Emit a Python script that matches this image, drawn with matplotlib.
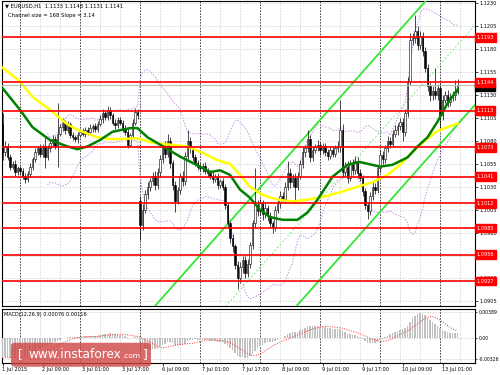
import numpy as np
import pandas as pd
import matplotlib
matplotlib.use("Agg")
import matplotlib.pyplot as plt
from matplotlib.patches import FancyBboxPatch

plt.rcParams['font.family'] = ['DejaVu Sans']

BASE = 1.09  # pip values below are pips above 1.0900

# EURUSD H1, 1 Jul 16:00 .. 13 Jul 07:00 (184 bars)
close_pips = [198, 168, 175, 162, 152, 155, 146, 150, 147, 142,
              138, 144, 152, 160, 168, 172, 166, 174, 162, 172,
              178, 182, 175, 188, 195, 200, 192, 198, 187, 184,
              182, 187, 190, 188, 192, 190, 194, 196, 193, 199,
              204, 210, 206, 214, 208, 200, 197, 203, 200, 194,
              190, 176, 186, 200, 212, 208, 88, 105, 122, 130,
              136, 142, 132, 146, 160, 174, 166, 180, 156, 132,
              115, 126, 142, 136, 164, 180, 172, 162, 156, 152,
              150, 153, 147, 145, 142, 138, 141, 132, 136, 130,
              110, 90, 74, 65, 45, 30, 42, 50, 36, 46,
              66, 90, 110, 104, 112, 100, 107, 98, 90, 86,
              105, 112, 120, 117, 130, 145, 135, 140, 130, 142,
              155, 168, 172, 182, 162, 170, 173, 176, 170, 174,
              168, 164, 170, 166, 172, 175, 192, 146, 152, 140,
              155, 148, 158, 145, 140, 125, 110, 104, 120, 130,
              127, 150, 165, 160, 172, 180, 177, 188, 192, 196,
              201, 190, 210, 245, 290, 292, 300, 285, 295, 278,
              260, 240, 230, 235, 230, 238, 208, 225, 230, 222,
              228, 230, 233, 241]
wick_up = [10, 12, 5, 3, 4, 3, 4, 3, 3, 4,
           3, 3, 4, 3, 4, 3, 5, 3, 10, 4,
           3, 4, 3, 33, 4, 5, 3, 4, 3, 3,
           3, 3, 3, 4, 3, 3, 4, 3, 4, 3,
           4, 5, 3, 4, 3, 3, 4, 3, 3, 3,
           3, 3, 3, 4, 4, 3, 5, 6, 4, 5,
           4, 4, 5, 4, 5, 4, 6, 8, 4, 3,
           4, 4, 3, 5, 4, 12, 4, 3, 4, 3,
           4, 3, 4, 3, 3, 4, 3, 4, 3, 4,
           3, 3, 3, 4, 3, 4, 6, 5, 4, 5,
           4, 4, 40, 6, 5, 4, 5, 3, 4, 3,
           4, 4, 5, 4, 5, 13, 5, 4, 5, 4,
           4, 5, 4, 10, 5, 4, 4, 5, 3, 4,
           4, 3, 4, 3, 4, 5, 33, 6, 5, 6,
           4, 5, 6, 5, 4, 3, 4, 3, 4, 5,
           4, 4, 5, 4, 4, 5, 4, 4, 5, 4,
           4, 4, 5, 5, 8, 6, 17, 5, 5, 4,
           5, 4, 4, 5, 25, 4, 5, 5, 4, 6,
           4, 5, 13, 7]
wick_dn = [4, 9, 4, 3, 4, 3, 4, 3, 4, 3,
           4, 3, 3, 4, 3, 3, 4, 3, 12, 3,
           4, 3, 4, 23, 3, 4, 4, 3, 4, 3,
           3, 4, 3, 3, 4, 3, 3, 4, 3, 3,
           3, 4, 3, 3, 4, 3, 4, 3, 3, 4,
           3, 4, 3, 3, 3, 4, 16, 5, 4, 5,
           5, 4, 6, 4, 5, 4, 5, 4, 5, 5,
           13, 4, 4, 5, 4, 4, 5, 4, 3, 4,
           3, 4, 3, 4, 3, 4, 3, 4, 3, 4,
           4, 5, 5, 6, 5, 12, 5, 6, 5, 4,
           5, 4, 5, 6, 5, 6, 4, 5, 4, 6,
           4, 4, 5, 4, 5, 4, 6, 5, 18, 4,
           4, 4, 5, 4, 5, 4, 3, 4, 5, 4,
           4, 5, 4, 4, 3, 4, 7, 5, 4, 6,
           4, 5, 4, 5, 4, 5, 4, 9, 5, 4,
           5, 4, 4, 5, 4, 4, 5, 4, 4, 5,
           4, 10, 5, 4, 4, 5, 5, 6, 5, 5,
           5, 5, 6, 5, 4, 5, 14, 5, 4, 5,
           4, 4, 5, 2]
open_pips = {0: 195, 56: 115}  # bars not opening at previous close

# moving averages (bar index, pips)
green_idx = [0, 8, 13, 20, 27, 31, 35, 40, 45, 52, 55, 59, 64, 72, 80, 84, 88, 92, 96, 100,
             104, 108, 113, 119, 123, 127, 133, 139, 144, 152, 157, 163, 167, 171, 175, 179, 183]
green_pips = [241, 214, 195, 181, 174, 171, 174, 181, 190, 194, 194, 184, 176, 163, 152, 146, 148, 143, 127, 118,
              105, 97, 94, 94, 102, 116, 141, 154, 157, 152, 154, 162, 174, 184, 201, 221, 236]
yellow_idx = [0, 8, 13, 20, 27, 32, 39, 44, 48, 55, 61, 68, 75, 81, 87, 92, 96, 100, 105, 111,
              117, 123, 129, 136, 143, 149, 155, 160, 165, 169, 175, 180, 183]
yellow_pips = [262, 245, 228, 214, 198, 191, 184, 182, 182, 183, 178, 176, 174, 167, 159, 155, 143, 130, 121, 116,
               114, 116, 119, 124, 130, 135, 143, 154, 168, 178, 191, 196, 199]

# regression channel: midline through two anchors, half width in pips
channel_idx = [100, 190]
channel_mid = [29.8, 306.4]
channel_half = 87
channel_start = 16

# MACD value on the first visible bar (history before it is not shown)
macd_first = -0.0030

levels = [1.1193, 1.1144, 1.1113, 1.1073, 1.1041, 1.1012, 1.0985, 1.0956, 1.0927]
last_price = 1.1141
price_ticks = [1.0905, 1.0930, 1.0980, 1.1005, 1.1030, 1.1055, 1.1080,
               1.1105, 1.1130, 1.1155, 1.1180, 1.1205, 1.1230]
grid_prices = [1.0905, 1.0930, 1.0955, 1.0980, 1.1005, 1.1030, 1.1055, 1.1080,
               1.1105, 1.1130, 1.1155, 1.1180, 1.1205, 1.1230]
macd_ticks = [0.00389, 0.0, -0.00326]
macd_labels = ['0.00389', '0.00', '-0.00326']
label_idx = [1, 17, 33, 49, 65, 81, 97, 113, 129, 145, 161, 177]

# ---- derived series
close = BASE + np.array(close_pips) / 1e4
opens = np.r_[close[0], close[:-1]]
for k, v in open_pips.items():
    opens[k] = BASE + v / 1e4
high = np.maximum(opens, close) + np.array(wick_up) / 1e4
low = np.minimum(opens, close) - np.array(wick_dn) / 1e4
x = np.arange(len(close))

times = pd.date_range('2015-07-01 16:00', '2015-07-13 07:00', freq='h')
times = times[times.dayofweek < 5]

s = pd.Series(close)
bb_mid = s.rolling(20).mean()
bb_sd = s.rolling(20).std(ddof=0)

ema_fast = s.ewm(span=12, adjust=False).mean().to_numpy()
ema_slow = [close[0] - macd_first]
for c in close[1:]:
    ema_slow.append(ema_slow[-1] + 2 / 27 * (c - ema_slow[-1]))
macd = ema_fast - np.array(ema_slow)
signal = pd.Series(macd).rolling(9, min_periods=1).mean()

fig = plt.figure(figsize=(5, 3.75), dpi=100)
ax = fig.add_axes([0.004, 0.184, 0.946, 0.813])
ax2 = fig.add_axes([0.004, 0.032, 0.946, 0.144])

for a in (ax, ax2):
    a.set_xlim(0.8, 190)
    for sp in a.spines.values():
        sp.set_color('black')
        sp.set_linewidth(0.8)
    for g in range(8, 190, 8):
        if (g - 8) % 24 == 0:
            a.axvline(g, color='#303030', lw=0.6, dashes=(2, 1.5), zorder=1)
        else:
            a.axvline(g, color='#c8c8c8', lw=0.5, dashes=(2, 2), zorder=1)

ax.set_ylim(1.0900, 1.12325)
for p in grid_prices:
    ax.axhline(p, color='#c8c8c8', lw=0.5, dashes=(2, 2), zorder=1)

# bollinger bands
ax.plot(x, bb_mid + 2 * bb_sd, color='#c890e8', lw=0.7, ls=(0, (1.5, 1.5)), zorder=2)
ax.plot(x, bb_mid - 2 * bb_sd, color='#c890e8', lw=0.7, ls=(0, (1.5, 1.5)), zorder=2)

# channel
cx = np.array([channel_start, 190])
slope = (channel_mid[1] - channel_mid[0]) / (channel_idx[1] - channel_idx[0])
mid = BASE + (channel_mid[0] + slope * (cx - channel_idx[0])) / 1e4
ax.plot(cx, mid + channel_half / 1e4, color='#33e633', lw=1.3, zorder=3)
ax.plot(cx, mid - channel_half / 1e4, color='#33e633', lw=1.3, zorder=3)
ax.plot(cx, mid, color='#7cf07c', lw=0.8, ls=(0, (1.5, 2)), zorder=3)

# candles
up = close >= opens
ax.vlines(x, low, high, color='black', lw=0.5, zorder=4)
ax.bar(x[up], (close - opens)[up], bottom=opens[up], width=0.7,
       color='white', edgecolor='black', lw=0.4, zorder=5)
ax.bar(x[~up], (opens - close)[~up], bottom=close[~up], width=0.7,
       color='black', edgecolor='black', lw=0.4, zorder=5)

# moving averages
ax.plot(yellow_idx, BASE + np.array(yellow_pips) / 1e4, color='#ffff00', lw=1.8, zorder=6)
ax.plot(green_idx, BASE + np.array(green_pips) / 1e4, color='#008000', lw=1.8, zorder=6)

# levels
ax.axhline(last_price, color='#c0c0c0', lw=0.8, zorder=6)
for lv in levels:
    ax.axhline(lv, color='#ff0000', lw=1.2, zorder=7)

ax.set_xticks([])
ax.yaxis.tick_right()
ax.set_yticks(price_ticks)
ax.set_yticklabels([f'{p:.4f}' for p in price_ticks])
ax.tick_params(axis='y', labelsize=3.6, length=2, width=0.5, pad=1.5)

yt = ax.get_yaxis_transform()
ax.text(1.003, last_price - 0.0002, f'{last_price:.4f}', transform=yt, fontsize=3.6, color='white',
        va='center', ha='left', clip_on=False, zorder=8,
        bbox=dict(boxstyle='square,pad=0.35', fc='black', ec='black'))
for lv in levels:
    ax.text(1.003, lv, f'{lv:.4f}', transform=yt, fontsize=3.6, color='white',
            va='center', ha='left', clip_on=False, zorder=9,
            bbox=dict(boxstyle='square,pad=0.35', fc='#ff0000', ec='#ff0000'))

ax.text(0.006, 0.993, '\u25bc EURUSD,H1  1.1133 1.1148 1.1131 1.1141', transform=ax.transAxes,
        fontsize=3.8, va='top', ha='left', zorder=10)
ax.text(0.012, 0.962, 'Channel size = 168 Slope = 3.14', transform=ax.transAxes,
        fontsize=3.8, va='top', ha='left', zorder=10)

# MACD panel
ax2.set_ylim(-0.0038, 0.0044)
for t in macd_ticks:
    ax2.axhline(t, color='#c8c8c8', lw=0.5, dashes=(2, 2), zorder=1)
ax2.bar(x, macd, width=0.6, color='#c0c0c0', zorder=3)
ax2.plot(x, signal, color='#ff3030', lw=0.7, ls=(0, (1, 1.5)), zorder=4)
ax2.yaxis.tick_right()
ax2.set_yticks(macd_ticks)
ax2.set_yticklabels(macd_labels)
ax2.tick_params(axis='y', labelsize=3.3, length=1.5, width=0.5, pad=1)
ax2.set_xticks(label_idx)
xl = ['1 Jul 2015'] + [f'{times[i].day} {times[i]:%b %H:%M}' for i in label_idx[1:]]
ax2.set_xticklabels(xl)
ax2.tick_params(axis='x', labelsize=3.6, length=2, width=0.5, pad=1)
for lab in ax2.get_xticklabels():
    lab.set_ha('left')
ax2.text(0.004, 0.95, 'MACD(12,26,9) 0.00076 0.00116', transform=ax2.transAxes,
         fontsize=3.6, va='top', ha='left', zorder=10)

# watermark
fig.add_artist(FancyBboxPatch((0.022, 0.022), 0.28, 0.064,
                              boxstyle='round,pad=0,rounding_size=0.008',
                              transform=fig.transFigure, fc='#d04545', ec='none', alpha=0.8))
wy = 1 - 355 / 375
fig.text(18 / 500, wy, '[', color='white', fontsize=8.7, va='center', ha='left')
fig.text(28 / 500, wy, 'www.instaforex', color='white', fontsize=8.7, va='center', ha='left')
fig.text(122 / 500, wy - 0.002, '.com', color='white', fontsize=5.3, va='center', ha='left')
fig.text(143 / 500, wy, ']', color='white', fontsize=8.7, va='center', ha='left')

fig.savefig('out.png', dpi=100)
